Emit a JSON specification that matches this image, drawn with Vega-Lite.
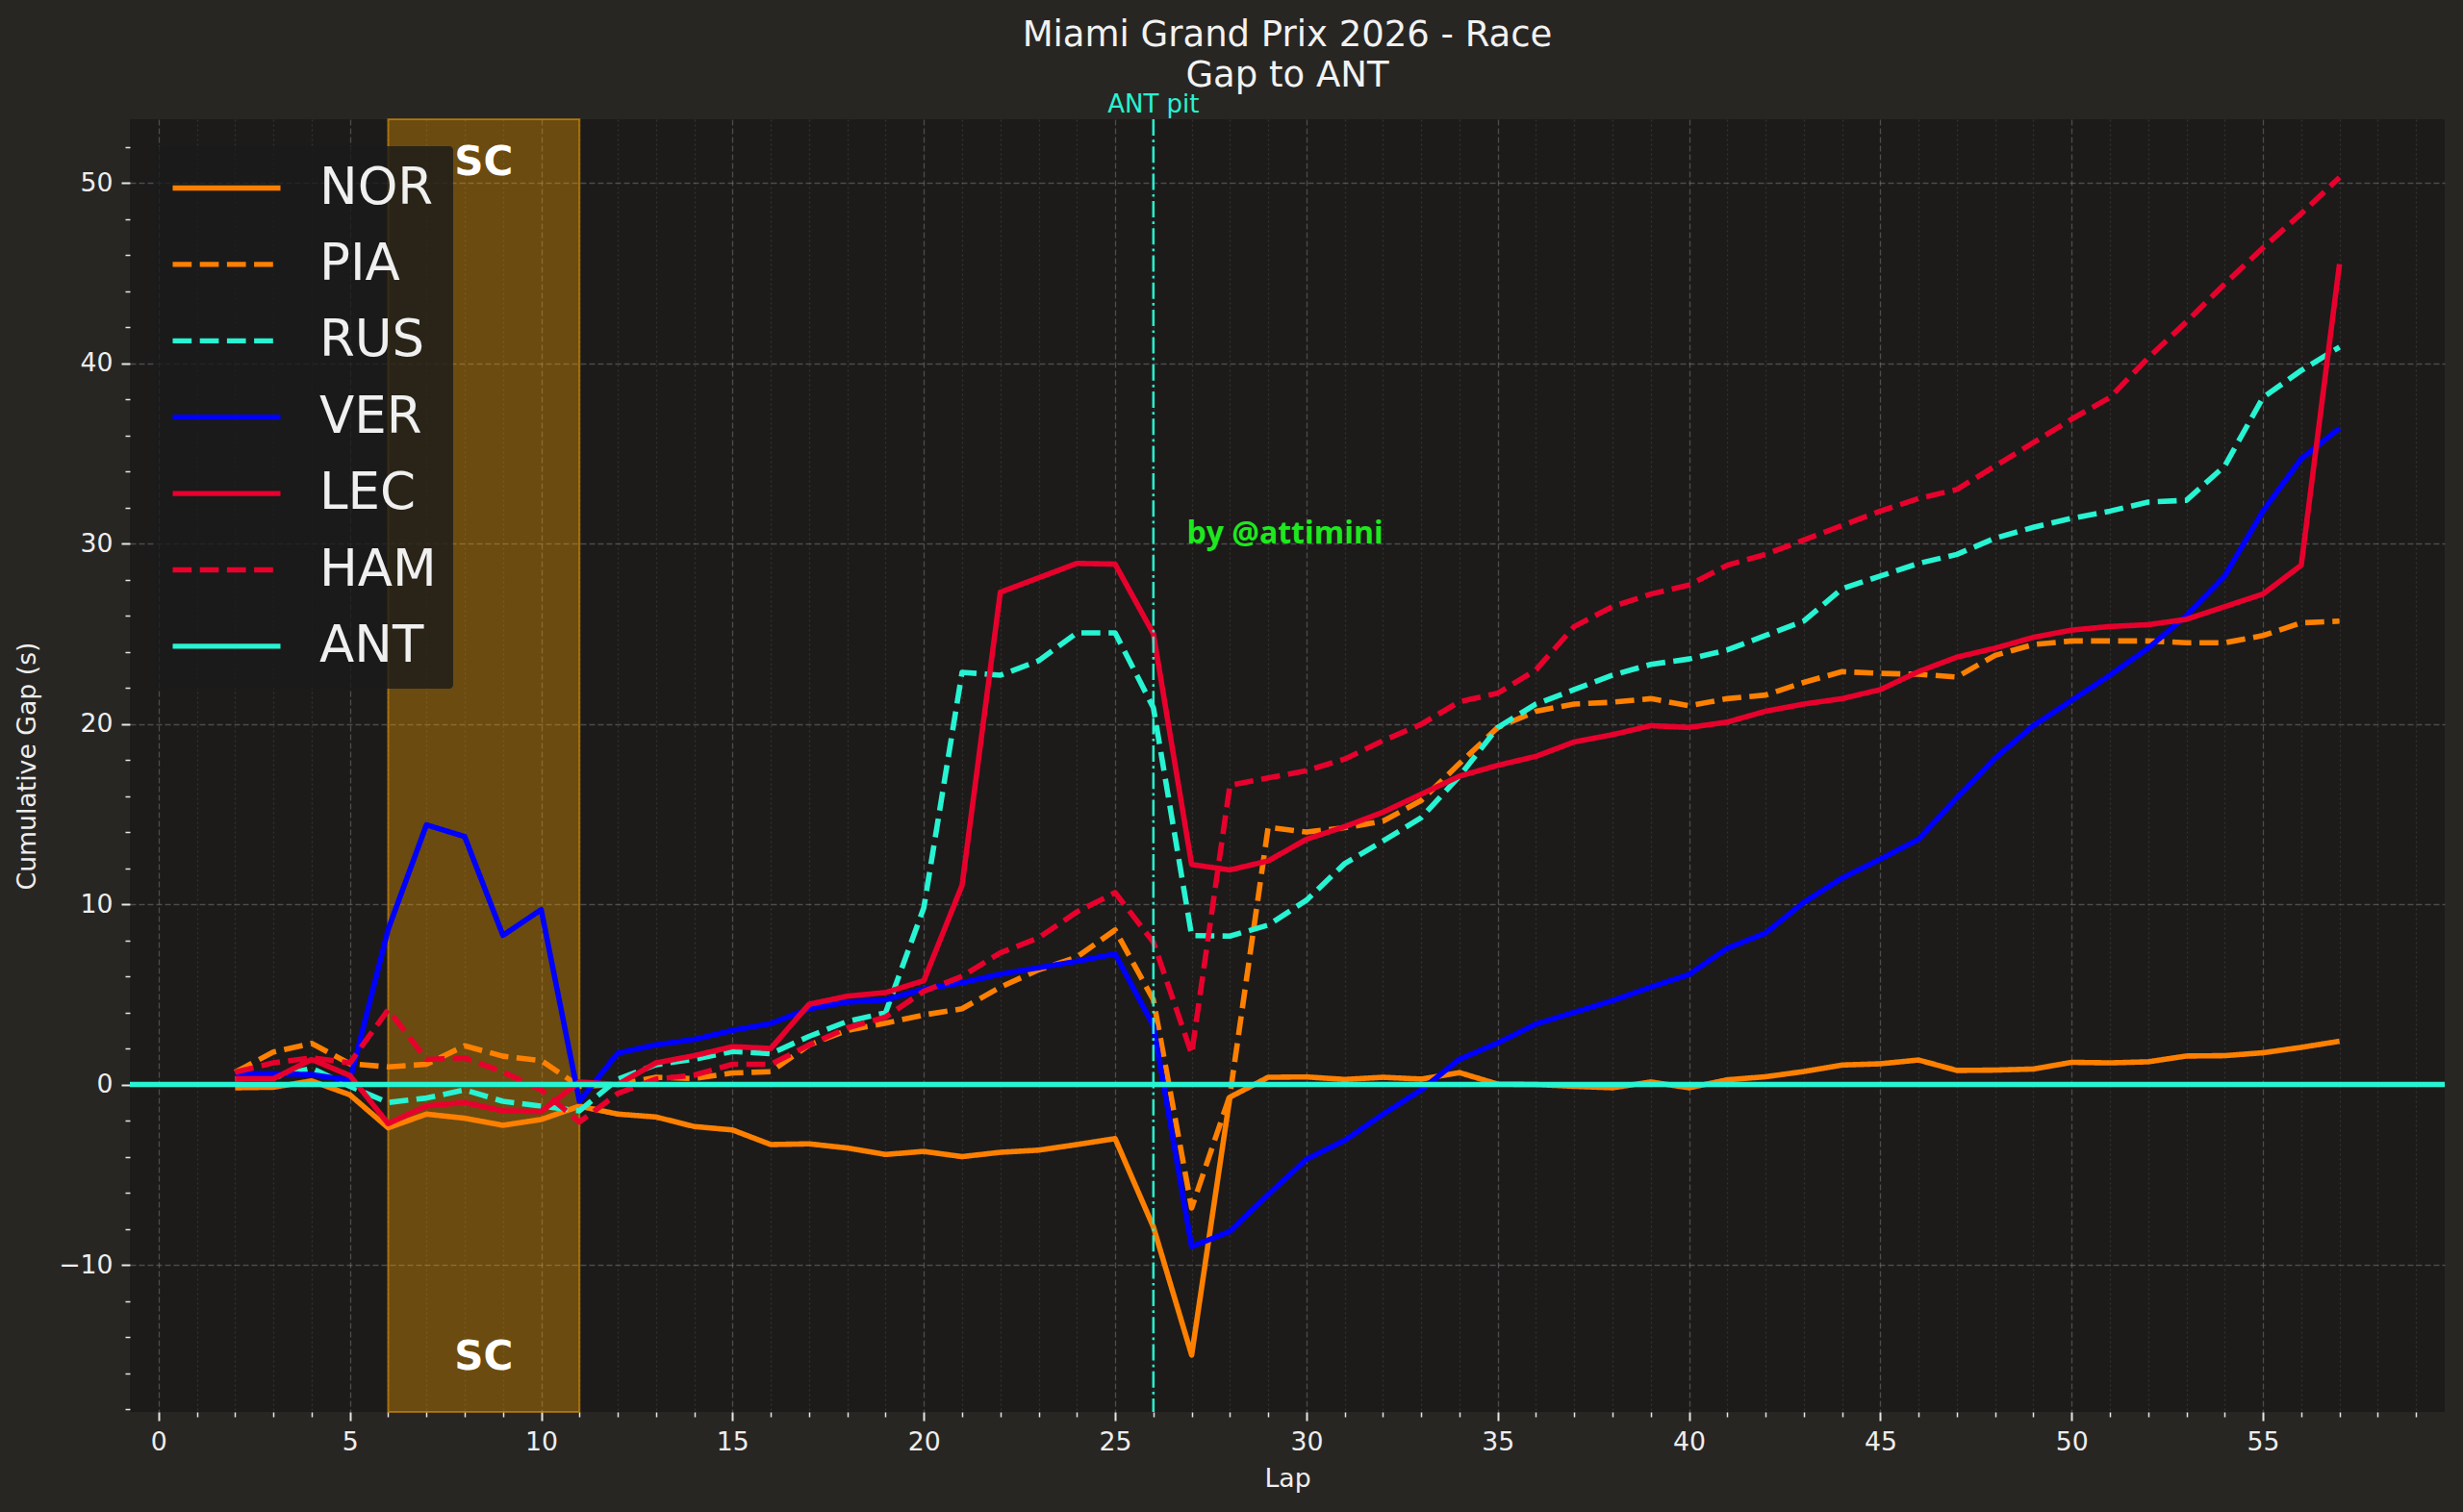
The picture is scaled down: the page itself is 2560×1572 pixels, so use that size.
{
  "$schema": "https://vega.github.io/schema/vega-lite/v6.json",
  "width": 2406,
  "height": 1344,
  "autosize": {"type": "none"},
  "padding": {"left": 135, "top": 124, "right": 19, "bottom": 104},
  "background": "#282623",
  "title": {
    "text": ["Miami Grand Prix 2026 - Race", "Gap to ANT"],
    "font": "DejaVu Sans",
    "fontSize": 37,
    "fontWeight": "normal",
    "color": "#f2f2f2",
    "lineHeight": 42,
    "anchor": "middle",
    "offset": -2
  },
  "config": {
    "view": {"fill": "#1c1b1a", "stroke": null},
    "font": "DejaVu Sans",
    "axis": {
      "domain": false,
      "labelColor": "#eeeeee",
      "titleColor": "#eeeeee",
      "labelFont": "DejaVu Sans",
      "titleFont": "DejaVu Sans",
      "labelFontSize": 26.7,
      "titleFontSize": 26.7,
      "titleFontWeight": "normal",
      "tickColor": "#e6e6e6",
      "gridColor": "#8a8a8a",
      "gridWidth": 1.3,
      "labelOverlap": false,
      "labelFlush": false
    }
  },
  "resolve": {"axis": {"y": "independent"}},
  "datasets": {
    "gaps": [
      {"lap": 2, "driver": "NOR", "gap": -0.18}, {"lap": 3, "driver": "NOR", "gap": -0.15}, {"lap": 4, "driver": "NOR", "gap": 0.2}, {"lap": 5, "driver": "NOR", "gap": -0.57},
      {"lap": 6, "driver": "NOR", "gap": -2.4}, {"lap": 7, "driver": "NOR", "gap": -1.64}, {"lap": 8, "driver": "NOR", "gap": -1.87}, {"lap": 9, "driver": "NOR", "gap": -2.26},
      {"lap": 10, "driver": "NOR", "gap": -1.94}, {"lap": 11, "driver": "NOR", "gap": -1.2}, {"lap": 12, "driver": "NOR", "gap": -1.64}, {"lap": 13, "driver": "NOR", "gap": -1.8},
      {"lap": 14, "driver": "NOR", "gap": -2.33}, {"lap": 15, "driver": "NOR", "gap": -2.52}, {"lap": 16, "driver": "NOR", "gap": -3.33}, {"lap": 17, "driver": "NOR", "gap": -3.29},
      {"lap": 18, "driver": "NOR", "gap": -3.52}, {"lap": 19, "driver": "NOR", "gap": -3.88}, {"lap": 20, "driver": "NOR", "gap": -3.71}, {"lap": 21, "driver": "NOR", "gap": -4.0},
      {"lap": 22, "driver": "NOR", "gap": -3.76}, {"lap": 23, "driver": "NOR", "gap": -3.64}, {"lap": 24, "driver": "NOR", "gap": -3.33}, {"lap": 25, "driver": "NOR", "gap": -3.0},
      {"lap": 26, "driver": "NOR", "gap": -7.9}, {"lap": 27, "driver": "NOR", "gap": -15.0}, {"lap": 28, "driver": "NOR", "gap": -0.7}, {"lap": 29, "driver": "NOR", "gap": 0.4},
      {"lap": 30, "driver": "NOR", "gap": 0.42}, {"lap": 31, "driver": "NOR", "gap": 0.28}, {"lap": 32, "driver": "NOR", "gap": 0.4}, {"lap": 33, "driver": "NOR", "gap": 0.3},
      {"lap": 34, "driver": "NOR", "gap": 0.66}, {"lap": 35, "driver": "NOR", "gap": 0.02}, {"lap": 36, "driver": "NOR", "gap": 0.0}, {"lap": 37, "driver": "NOR", "gap": -0.1},
      {"lap": 38, "driver": "NOR", "gap": -0.18}, {"lap": 39, "driver": "NOR", "gap": 0.14}, {"lap": 40, "driver": "NOR", "gap": -0.18}, {"lap": 41, "driver": "NOR", "gap": 0.26},
      {"lap": 42, "driver": "NOR", "gap": 0.43}, {"lap": 43, "driver": "NOR", "gap": 0.72}, {"lap": 44, "driver": "NOR", "gap": 1.08}, {"lap": 45, "driver": "NOR", "gap": 1.15},
      {"lap": 46, "driver": "NOR", "gap": 1.36}, {"lap": 47, "driver": "NOR", "gap": 0.78}, {"lap": 48, "driver": "NOR", "gap": 0.8}, {"lap": 49, "driver": "NOR", "gap": 0.86},
      {"lap": 50, "driver": "NOR", "gap": 1.23}, {"lap": 51, "driver": "NOR", "gap": 1.2}, {"lap": 52, "driver": "NOR", "gap": 1.26}, {"lap": 53, "driver": "NOR", "gap": 1.58},
      {"lap": 54, "driver": "NOR", "gap": 1.6}, {"lap": 55, "driver": "NOR", "gap": 1.76}, {"lap": 56, "driver": "NOR", "gap": 2.06}, {"lap": 57, "driver": "NOR", "gap": 2.4},

      {"lap": 2, "driver": "PIA", "gap": 0.68}, {"lap": 3, "driver": "PIA", "gap": 1.8}, {"lap": 4, "driver": "PIA", "gap": 2.28}, {"lap": 5, "driver": "PIA", "gap": 1.15},
      {"lap": 6, "driver": "PIA", "gap": 0.98}, {"lap": 7, "driver": "PIA", "gap": 1.12}, {"lap": 8, "driver": "PIA", "gap": 2.15}, {"lap": 9, "driver": "PIA", "gap": 1.57},
      {"lap": 10, "driver": "PIA", "gap": 1.33}, {"lap": 11, "driver": "PIA", "gap": -0.1}, {"lap": 12, "driver": "PIA", "gap": 0.0}, {"lap": 13, "driver": "PIA", "gap": 0.4},
      {"lap": 14, "driver": "PIA", "gap": 0.33}, {"lap": 15, "driver": "PIA", "gap": 0.64}, {"lap": 16, "driver": "PIA", "gap": 0.71}, {"lap": 17, "driver": "PIA", "gap": 2.19},
      {"lap": 18, "driver": "PIA", "gap": 3.0}, {"lap": 19, "driver": "PIA", "gap": 3.4}, {"lap": 20, "driver": "PIA", "gap": 3.86}, {"lap": 21, "driver": "PIA", "gap": 4.2},
      {"lap": 22, "driver": "PIA", "gap": 5.4}, {"lap": 23, "driver": "PIA", "gap": 6.36}, {"lap": 24, "driver": "PIA", "gap": 7.07}, {"lap": 25, "driver": "PIA", "gap": 8.57},
      {"lap": 26, "driver": "PIA", "gap": 4.7}, {"lap": 27, "driver": "PIA", "gap": -6.85}, {"lap": 28, "driver": "PIA", "gap": -0.6}, {"lap": 29, "driver": "PIA", "gap": 14.27},
      {"lap": 30, "driver": "PIA", "gap": 14.0}, {"lap": 31, "driver": "PIA", "gap": 14.24}, {"lap": 32, "driver": "PIA", "gap": 14.6}, {"lap": 33, "driver": "PIA", "gap": 15.75},
      {"lap": 34, "driver": "PIA", "gap": 17.8}, {"lap": 35, "driver": "PIA", "gap": 19.8}, {"lap": 36, "driver": "PIA", "gap": 20.7}, {"lap": 37, "driver": "PIA", "gap": 21.1},
      {"lap": 38, "driver": "PIA", "gap": 21.2}, {"lap": 39, "driver": "PIA", "gap": 21.4}, {"lap": 40, "driver": "PIA", "gap": 21.0}, {"lap": 41, "driver": "PIA", "gap": 21.4},
      {"lap": 42, "driver": "PIA", "gap": 21.6}, {"lap": 43, "driver": "PIA", "gap": 22.3}, {"lap": 44, "driver": "PIA", "gap": 22.9}, {"lap": 45, "driver": "PIA", "gap": 22.8},
      {"lap": 46, "driver": "PIA", "gap": 22.75}, {"lap": 47, "driver": "PIA", "gap": 22.6}, {"lap": 48, "driver": "PIA", "gap": 23.8}, {"lap": 49, "driver": "PIA", "gap": 24.4},
      {"lap": 50, "driver": "PIA", "gap": 24.6}, {"lap": 51, "driver": "PIA", "gap": 24.6}, {"lap": 52, "driver": "PIA", "gap": 24.6}, {"lap": 53, "driver": "PIA", "gap": 24.5},
      {"lap": 54, "driver": "PIA", "gap": 24.5}, {"lap": 55, "driver": "PIA", "gap": 24.9}, {"lap": 56, "driver": "PIA", "gap": 25.6}, {"lap": 57, "driver": "PIA", "gap": 25.7},

      {"lap": 2, "driver": "RUS", "gap": 0.32}, {"lap": 3, "driver": "RUS", "gap": 0.4}, {"lap": 4, "driver": "RUS", "gap": 0.9}, {"lap": 5, "driver": "RUS", "gap": -0.1},
      {"lap": 6, "driver": "RUS", "gap": -1.0}, {"lap": 7, "driver": "RUS", "gap": -0.75}, {"lap": 8, "driver": "RUS", "gap": -0.3}, {"lap": 9, "driver": "RUS", "gap": -0.93},
      {"lap": 10, "driver": "RUS", "gap": -1.2}, {"lap": 11, "driver": "RUS", "gap": -1.46}, {"lap": 12, "driver": "RUS", "gap": 0.3}, {"lap": 13, "driver": "RUS", "gap": 1.1},
      {"lap": 14, "driver": "RUS", "gap": 1.4}, {"lap": 15, "driver": "RUS", "gap": 1.83}, {"lap": 16, "driver": "RUS", "gap": 1.71}, {"lap": 17, "driver": "RUS", "gap": 2.67},
      {"lap": 18, "driver": "RUS", "gap": 3.5}, {"lap": 19, "driver": "RUS", "gap": 3.98}, {"lap": 20, "driver": "RUS", "gap": 9.8}, {"lap": 21, "driver": "RUS", "gap": 22.86},
      {"lap": 22, "driver": "RUS", "gap": 22.7}, {"lap": 23, "driver": "RUS", "gap": 23.5}, {"lap": 24, "driver": "RUS", "gap": 25.05}, {"lap": 25, "driver": "RUS", "gap": 25.05},
      {"lap": 26, "driver": "RUS", "gap": 20.9}, {"lap": 27, "driver": "RUS", "gap": 8.26}, {"lap": 28, "driver": "RUS", "gap": 8.23}, {"lap": 29, "driver": "RUS", "gap": 8.84},
      {"lap": 30, "driver": "RUS", "gap": 10.22}, {"lap": 31, "driver": "RUS", "gap": 12.25}, {"lap": 32, "driver": "RUS", "gap": 13.5}, {"lap": 33, "driver": "RUS", "gap": 14.8},
      {"lap": 34, "driver": "RUS", "gap": 17.1}, {"lap": 35, "driver": "RUS", "gap": 19.8}, {"lap": 36, "driver": "RUS", "gap": 21.1}, {"lap": 37, "driver": "RUS", "gap": 21.9},
      {"lap": 38, "driver": "RUS", "gap": 22.7}, {"lap": 39, "driver": "RUS", "gap": 23.3}, {"lap": 40, "driver": "RUS", "gap": 23.6}, {"lap": 41, "driver": "RUS", "gap": 24.1},
      {"lap": 42, "driver": "RUS", "gap": 24.9}, {"lap": 43, "driver": "RUS", "gap": 25.7}, {"lap": 44, "driver": "RUS", "gap": 27.5}, {"lap": 45, "driver": "RUS", "gap": 28.2},
      {"lap": 46, "driver": "RUS", "gap": 28.9}, {"lap": 47, "driver": "RUS", "gap": 29.4}, {"lap": 48, "driver": "RUS", "gap": 30.3}, {"lap": 49, "driver": "RUS", "gap": 30.9},
      {"lap": 50, "driver": "RUS", "gap": 31.4}, {"lap": 51, "driver": "RUS", "gap": 31.8}, {"lap": 52, "driver": "RUS", "gap": 32.3}, {"lap": 53, "driver": "RUS", "gap": 32.4},
      {"lap": 54, "driver": "RUS", "gap": 34.3}, {"lap": 55, "driver": "RUS", "gap": 38.1}, {"lap": 56, "driver": "RUS", "gap": 39.6}, {"lap": 57, "driver": "RUS", "gap": 40.9},

      {"lap": 2, "driver": "VER", "gap": 0.59}, {"lap": 3, "driver": "VER", "gap": 0.6}, {"lap": 4, "driver": "VER", "gap": 0.55}, {"lap": 5, "driver": "VER", "gap": 0.23},
      {"lap": 6, "driver": "VER", "gap": 8.6}, {"lap": 7, "driver": "VER", "gap": 14.4}, {"lap": 8, "driver": "VER", "gap": 13.75}, {"lap": 9, "driver": "VER", "gap": 8.27},
      {"lap": 10, "driver": "VER", "gap": 9.7}, {"lap": 11, "driver": "VER", "gap": -0.93}, {"lap": 12, "driver": "VER", "gap": 1.74}, {"lap": 13, "driver": "VER", "gap": 2.2},
      {"lap": 14, "driver": "VER", "gap": 2.5}, {"lap": 15, "driver": "VER", "gap": 3.0}, {"lap": 16, "driver": "VER", "gap": 3.38}, {"lap": 17, "driver": "VER", "gap": 4.2},
      {"lap": 18, "driver": "VER", "gap": 4.57}, {"lap": 19, "driver": "VER", "gap": 4.69}, {"lap": 20, "driver": "VER", "gap": 5.29}, {"lap": 21, "driver": "VER", "gap": 5.64},
      {"lap": 22, "driver": "VER", "gap": 6.12}, {"lap": 23, "driver": "VER", "gap": 6.48}, {"lap": 24, "driver": "VER", "gap": 6.83}, {"lap": 25, "driver": "VER", "gap": 7.24},
      {"lap": 26, "driver": "VER", "gap": 3.26}, {"lap": 27, "driver": "VER", "gap": -8.99}, {"lap": 28, "driver": "VER", "gap": -8.15}, {"lap": 29, "driver": "VER", "gap": -6.1},
      {"lap": 30, "driver": "VER", "gap": -4.15}, {"lap": 31, "driver": "VER", "gap": -3.1}, {"lap": 32, "driver": "VER", "gap": -1.65}, {"lap": 33, "driver": "VER", "gap": -0.3},
      {"lap": 34, "driver": "VER", "gap": 1.4}, {"lap": 35, "driver": "VER", "gap": 2.3}, {"lap": 36, "driver": "VER", "gap": 3.35}, {"lap": 37, "driver": "VER", "gap": 4.0},
      {"lap": 38, "driver": "VER", "gap": 4.65}, {"lap": 39, "driver": "VER", "gap": 5.4}, {"lap": 40, "driver": "VER", "gap": 6.1}, {"lap": 41, "driver": "VER", "gap": 7.55},
      {"lap": 42, "driver": "VER", "gap": 8.4}, {"lap": 43, "driver": "VER", "gap": 10.1}, {"lap": 44, "driver": "VER", "gap": 11.45}, {"lap": 45, "driver": "VER", "gap": 12.5},
      {"lap": 46, "driver": "VER", "gap": 13.6}, {"lap": 47, "driver": "VER", "gap": 15.9}, {"lap": 48, "driver": "VER", "gap": 18.1}, {"lap": 49, "driver": "VER", "gap": 19.9},
      {"lap": 50, "driver": "VER", "gap": 21.3}, {"lap": 51, "driver": "VER", "gap": 22.7}, {"lap": 52, "driver": "VER", "gap": 24.2}, {"lap": 53, "driver": "VER", "gap": 26.0},
      {"lap": 54, "driver": "VER", "gap": 28.2}, {"lap": 55, "driver": "VER", "gap": 31.8}, {"lap": 56, "driver": "VER", "gap": 34.7}, {"lap": 57, "driver": "VER", "gap": 36.4},

      {"lap": 2, "driver": "LEC", "gap": 0.32}, {"lap": 3, "driver": "LEC", "gap": 0.32}, {"lap": 4, "driver": "LEC", "gap": 1.39}, {"lap": 5, "driver": "LEC", "gap": 0.5},
      {"lap": 6, "driver": "LEC", "gap": -2.17}, {"lap": 7, "driver": "LEC", "gap": -1.19}, {"lap": 8, "driver": "LEC", "gap": -1.0}, {"lap": 9, "driver": "LEC", "gap": -1.46},
      {"lap": 10, "driver": "LEC", "gap": -1.5}, {"lap": 11, "driver": "LEC", "gap": 0.14}, {"lap": 12, "driver": "LEC", "gap": 0.0}, {"lap": 13, "driver": "LEC", "gap": 1.2},
      {"lap": 14, "driver": "LEC", "gap": 1.6}, {"lap": 15, "driver": "LEC", "gap": 2.1}, {"lap": 16, "driver": "LEC", "gap": 2.0}, {"lap": 17, "driver": "LEC", "gap": 4.45},
      {"lap": 18, "driver": "LEC", "gap": 4.9}, {"lap": 19, "driver": "LEC", "gap": 5.1}, {"lap": 20, "driver": "LEC", "gap": 5.76}, {"lap": 21, "driver": "LEC", "gap": 11.05},
      {"lap": 22, "driver": "LEC", "gap": 27.3}, {"lap": 23, "driver": "LEC", "gap": 28.1}, {"lap": 24, "driver": "LEC", "gap": 28.9}, {"lap": 25, "driver": "LEC", "gap": 28.86},
      {"lap": 26, "driver": "LEC", "gap": 25.0}, {"lap": 27, "driver": "LEC", "gap": 12.2}, {"lap": 28, "driver": "LEC", "gap": 11.9}, {"lap": 29, "driver": "LEC", "gap": 12.4},
      {"lap": 30, "driver": "LEC", "gap": 13.6}, {"lap": 31, "driver": "LEC", "gap": 14.3}, {"lap": 32, "driver": "LEC", "gap": 15.1}, {"lap": 33, "driver": "LEC", "gap": 16.1},
      {"lap": 34, "driver": "LEC", "gap": 17.1}, {"lap": 35, "driver": "LEC", "gap": 17.7}, {"lap": 36, "driver": "LEC", "gap": 18.2}, {"lap": 37, "driver": "LEC", "gap": 19.0},
      {"lap": 38, "driver": "LEC", "gap": 19.4}, {"lap": 39, "driver": "LEC", "gap": 19.9}, {"lap": 40, "driver": "LEC", "gap": 19.8}, {"lap": 41, "driver": "LEC", "gap": 20.1},
      {"lap": 42, "driver": "LEC", "gap": 20.7}, {"lap": 43, "driver": "LEC", "gap": 21.1}, {"lap": 44, "driver": "LEC", "gap": 21.4}, {"lap": 45, "driver": "LEC", "gap": 21.9},
      {"lap": 46, "driver": "LEC", "gap": 22.9}, {"lap": 47, "driver": "LEC", "gap": 23.7}, {"lap": 48, "driver": "LEC", "gap": 24.2}, {"lap": 49, "driver": "LEC", "gap": 24.8},
      {"lap": 50, "driver": "LEC", "gap": 25.2}, {"lap": 51, "driver": "LEC", "gap": 25.4}, {"lap": 52, "driver": "LEC", "gap": 25.5}, {"lap": 53, "driver": "LEC", "gap": 25.8},
      {"lap": 54, "driver": "LEC", "gap": 26.5}, {"lap": 55, "driver": "LEC", "gap": 27.2}, {"lap": 56, "driver": "LEC", "gap": 28.8}, {"lap": 57, "driver": "LEC", "gap": 45.5},

      {"lap": 2, "driver": "HAM", "gap": 0.68}, {"lap": 3, "driver": "HAM", "gap": 1.2}, {"lap": 4, "driver": "HAM", "gap": 1.48}, {"lap": 5, "driver": "HAM", "gap": 1.2},
      {"lap": 6, "driver": "HAM", "gap": 4.15}, {"lap": 7, "driver": "HAM", "gap": 1.39}, {"lap": 8, "driver": "HAM", "gap": 1.48}, {"lap": 9, "driver": "HAM", "gap": 0.7},
      {"lap": 10, "driver": "HAM", "gap": -0.3}, {"lap": 11, "driver": "HAM", "gap": -2.08}, {"lap": 12, "driver": "HAM", "gap": -0.5}, {"lap": 13, "driver": "HAM", "gap": 0.3},
      {"lap": 14, "driver": "HAM", "gap": 0.52}, {"lap": 15, "driver": "HAM", "gap": 1.12}, {"lap": 16, "driver": "HAM", "gap": 1.12}, {"lap": 17, "driver": "HAM", "gap": 2.19},
      {"lap": 18, "driver": "HAM", "gap": 3.14}, {"lap": 19, "driver": "HAM", "gap": 3.74}, {"lap": 20, "driver": "HAM", "gap": 5.17}, {"lap": 21, "driver": "HAM", "gap": 6.0},
      {"lap": 22, "driver": "HAM", "gap": 7.3}, {"lap": 23, "driver": "HAM", "gap": 8.14}, {"lap": 24, "driver": "HAM", "gap": 9.57}, {"lap": 25, "driver": "HAM", "gap": 10.64},
      {"lap": 26, "driver": "HAM", "gap": 7.9}, {"lap": 27, "driver": "HAM", "gap": 1.7}, {"lap": 28, "driver": "HAM", "gap": 16.6}, {"lap": 29, "driver": "HAM", "gap": 17.0},
      {"lap": 30, "driver": "HAM", "gap": 17.4}, {"lap": 31, "driver": "HAM", "gap": 18.05}, {"lap": 32, "driver": "HAM", "gap": 19.06}, {"lap": 33, "driver": "HAM", "gap": 19.98},
      {"lap": 34, "driver": "HAM", "gap": 21.23}, {"lap": 35, "driver": "HAM", "gap": 21.7}, {"lap": 36, "driver": "HAM", "gap": 23.0}, {"lap": 37, "driver": "HAM", "gap": 25.4},
      {"lap": 38, "driver": "HAM", "gap": 26.5}, {"lap": 39, "driver": "HAM", "gap": 27.2}, {"lap": 40, "driver": "HAM", "gap": 27.7}, {"lap": 41, "driver": "HAM", "gap": 28.8},
      {"lap": 42, "driver": "HAM", "gap": 29.4}, {"lap": 43, "driver": "HAM", "gap": 30.2}, {"lap": 44, "driver": "HAM", "gap": 31.0}, {"lap": 45, "driver": "HAM", "gap": 31.8},
      {"lap": 46, "driver": "HAM", "gap": 32.5}, {"lap": 47, "driver": "HAM", "gap": 33.0}, {"lap": 48, "driver": "HAM", "gap": 34.3}, {"lap": 49, "driver": "HAM", "gap": 35.6},
      {"lap": 50, "driver": "HAM", "gap": 36.9}, {"lap": 51, "driver": "HAM", "gap": 38.1}, {"lap": 52, "driver": "HAM", "gap": 40.3}, {"lap": 53, "driver": "HAM", "gap": 42.3},
      {"lap": 54, "driver": "HAM", "gap": 44.4}, {"lap": 55, "driver": "HAM", "gap": 46.4}, {"lap": 56, "driver": "HAM", "gap": 48.3}, {"lap": 57, "driver": "HAM", "gap": 50.3}
    ]
  },
  "layer": [
    {
      "data": {"values": [{"start": 6, "end": 11}]},
      "mark": {"type": "rect", "fill": "#FFA500", "fillOpacity": 0.35, "stroke": "#FFA500", "strokeOpacity": 0.5, "strokeWidth": 2},
      "encoding": {
        "x": {
          "field": "start",
          "type": "quantitative",
          "title": "Lap",
          "scale": {"domain": [-0.75, 59.75], "nice": false, "zero": false},
          "axis": {
            "values": [0, 1, 2, 3, 4, 5, 6, 7, 8, 9, 10, 11, 12, 13, 14, 15, 16, 17, 18, 19, 20, 21, 22, 23, 24, 25, 26, 27, 28, 29, 30, 31, 32, 33, 34, 35, 36, 37, 38, 39, 40, 41, 42, 43, 44, 45, 46, 47, 48, 49, 50, 51, 52, 53, 54, 55, 56, 57, 58, 59],
            "format": "d",
            "labelOverlap": false,
            "labelExpr": "datum.value % 5 === 0 ? datum.label : ''",
            "tickSize": {"condition": {"test": "datum.value % 5 === 0", "value": 9}, "value": 5},
            "tickWidth": {"condition": {"test": "datum.value % 5 === 0", "value": 2}, "value": 1.5},
            "gridDash": {"condition": {"test": "datum.value % 5 === 0", "value": [6, 3]}, "value": [2, 3]},
            "gridOpacity": {"condition": {"test": "datum.value % 5 === 0", "value": 0.45}, "value": 0.2},
            "labelPadding": 9,
            "titlePadding": 12
          }
        },
        "x2": {"field": "end"}
      }
    },
    {
      "data": {"name": "gaps"},
      "mark": {"type": "line", "strokeWidth": 5.6, "strokeJoin": "round", "strokeCap": "butt"},
      "encoding": {
        "x": {"field": "lap", "type": "quantitative", "title": "Lap", "scale": {"domain": [-0.75, 59.75], "nice": false, "zero": false}},
        "y": {
          "field": "gap",
          "type": "quantitative",
          "title": "Cumulative Gap (s)",
          "scale": {"domain": [-18.16, 53.53], "nice": false, "zero": false},
          "axis": {
            "orient": "left",
            "values": [-10, 0, 10, 20, 30, 40, 50],
            "format": "d",
            "labelOverlap": false,
            "tickSize": 9,
            "tickWidth": 2,
            "gridDash": [6, 3],
            "gridOpacity": 0.45,
            "labelPadding": 9,
            "titlePadding": 18
          }
        },
        "color": {
          "field": "driver",
          "type": "nominal",
          "scale": {
            "domain": ["NOR", "PIA", "RUS", "VER", "LEC", "HAM", "ANT"],
            "range": ["#FF8000", "#FF8000", "#27F4D2", "#0000FF", "#E8002D", "#E8002D", "#27F4D2"]
          },
          "legend": {
            "title": null, "orient": "none", "legendX": 27, "legendY": 28,
            "fillColor": "rgba(26,26,26,0.8)", "padding": 17, "cornerRadius": 4,
            "labelFont": "DejaVu Sans", "labelFontSize": 53, "labelColor": "#f0f0f0", "labelLimit": 400,
            "symbolType": "M-1.857,0H6.143", "symbolSize": 784, "symbolStrokeWidth": 5.3,
            "labelOffset": 100, "rowPadding": 25.4
          }
        },
        "strokeDash": {
          "field": "driver",
          "type": "nominal",
          "scale": {
            "domain": ["NOR", "PIA", "RUS", "VER", "LEC", "HAM", "ANT"],
            "range": [[1, 0], [19.7, 8.5], [19.7, 8.5], [1, 0], [1, 0], [19.7, 8.5], [1, 0]]
          },
          "legend": {
            "title": null, "orient": "none", "legendX": 27, "legendY": 28,
            "fillColor": "rgba(26,26,26,0.8)", "padding": 17, "cornerRadius": 4,
            "labelFont": "DejaVu Sans", "labelFontSize": 53, "labelColor": "#f0f0f0", "labelLimit": 400,
            "symbolType": "M-1.857,0H6.143", "symbolSize": 784, "symbolStrokeWidth": 5.3,
            "labelOffset": 100, "rowPadding": 25.4
          }
        }
      }
    },
    {
      "data": {"values": [{"driver": "ANT", "gap": 0}]},
      "mark": {"type": "rule", "strokeWidth": 5.6},
      "encoding": {
        "y": {
          "field": "gap",
          "type": "quantitative",
          "scale": {"domain": [-18.16, 53.53], "nice": false, "zero": false},
          "axis": {
            "orient": "left",
            "title": null,
            "labels": false,
            "values": [-18, -16, -14, -12, -8, -6, -4, -2, 2, 4, 6, 8, 12, 14, 16, 18, 22, 24, 26, 28, 32, 34, 36, 38, 42, 44, 46, 48, 52],
            "tickSize": 5,
            "tickWidth": 1.5,
            "gridDash": [2, 3],
            "gridOpacity": 0.2
          }
        },
        "color": {"field": "driver", "type": "nominal"},
        "strokeDash": {"field": "driver", "type": "nominal"}
      }
    },
    {
      "data": {"values": [{"lap": 26}]},
      "mark": {"type": "rule", "color": "#27F4D2", "strokeWidth": 2.5, "strokeDash": [17, 4.3, 2.7, 4.3]},
      "encoding": {
        "x": {"field": "lap", "type": "quantitative", "scale": {"domain": [-0.75, 59.75], "nice": false, "zero": false}}
      }
    },
    {
      "data": {"values": [{"lap": 8.5, "gap": 51.14, "label": "SC"}, {"lap": 8.5, "gap": -15.13, "label": "SC"}]},
      "mark": {"type": "text", "font": "DejaVu Sans", "fontWeight": "bold", "fontSize": 42, "color": "#ffffff", "align": "center", "baseline": "middle"},
      "encoding": {
        "x": {"field": "lap", "type": "quantitative", "scale": {"domain": [-0.75, 59.75], "nice": false, "zero": false}},
        "y": {"field": "gap", "type": "quantitative", "scale": {"domain": [-18.16, 53.53], "nice": false, "zero": false}, "axis": null},
        "text": {"field": "label"}
      }
    },
    {
      "data": {"values": [{"lap": 26, "gap": 53.9, "label": "ANT pit"}]},
      "mark": {"type": "text", "font": "DejaVu Sans", "fontSize": 26, "color": "#27F4D2", "align": "center", "baseline": "alphabetic"},
      "encoding": {
        "x": {"field": "lap", "type": "quantitative", "scale": {"domain": [-0.75, 59.75], "nice": false, "zero": false}},
        "y": {"field": "gap", "type": "quantitative", "scale": {"domain": [-18.16, 53.53], "nice": false, "zero": false}, "axis": null},
        "text": {"field": "label"}
      }
    },
    {
      "data": {"values": [{"lap": 26.87, "gap": 30, "label": "by @attimini"}]},
      "mark": {"type": "text", "font": "Open Sans", "fontWeight": "bold", "fontSize": 32, "color": "#1ee81e", "align": "left", "baseline": "alphabetic"},
      "encoding": {
        "x": {"field": "lap", "type": "quantitative", "scale": {"domain": [-0.75, 59.75], "nice": false, "zero": false}},
        "y": {"field": "gap", "type": "quantitative", "scale": {"domain": [-18.16, 53.53], "nice": false, "zero": false}, "axis": null},
        "text": {"field": "label"}
      }
    }
  ]
}
